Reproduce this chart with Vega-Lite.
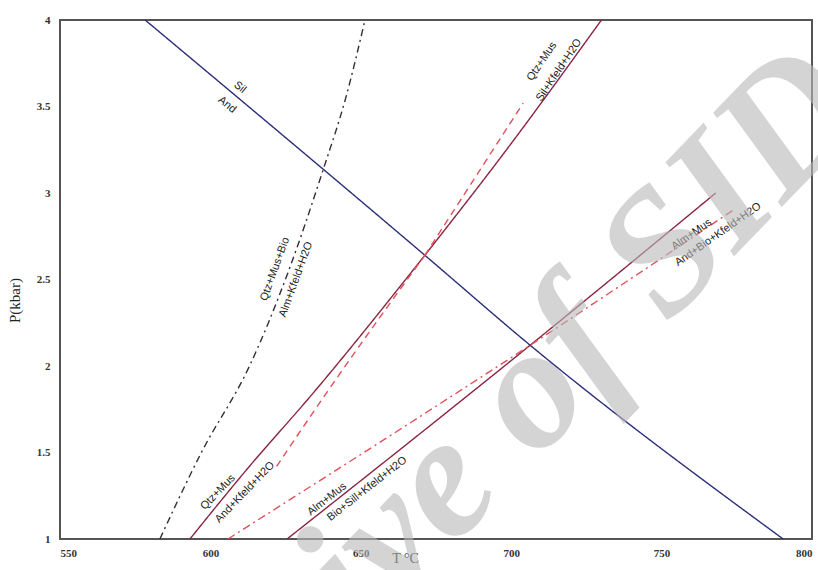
{
  "$schema": "https://vega.github.io/schema/vega-lite/v6.json",
  "width": 752,
  "height": 519,
  "autosize": "none",
  "padding": {"left": 60, "top": 20, "right": 6, "bottom": 31},
  "background": "white",
  "config": {
    "view": {"stroke": "#555", "strokeWidth": 2},
    "axis": {"grid": false, "domain": false, "ticks": false, "labelFont": "Liberation Serif", "labelFontSize": 11, "labelFontWeight": "bold", "labelColor": "#333", "titleFont": "Liberation Serif", "titleColor": "#222", "titleFontWeight": "normal"}
  },
  "datasets": {
    "lines": [
      {"series": "Sil-And", "order": 1, "T": 578.3, "P": 4},
      {"series": "Sil-And", "order": 2, "T": 671.3, "P": 2.64},
      {"series": "Sil-And", "order": 3, "T": 706.3, "P": 2.12},
      {"series": "Sil-And", "order": 4, "T": 790.4, "P": 1},
      {"series": "QMB", "order": 1, "T": 583.2, "P": 1},
      {"series": "QMB", "order": 2, "T": 597, "P": 1.5},
      {"series": "QMB", "order": 3, "T": 613, "P": 2.0},
      {"series": "QMB", "order": 4, "T": 626, "P": 2.55},
      {"series": "QMB", "order": 5, "T": 637.4, "P": 3.13},
      {"series": "QMB", "order": 6, "T": 645, "P": 3.55},
      {"series": "QMB", "order": 7, "T": 651.4, "P": 4},
      {"series": "QM-And", "order": 1, "T": 593.2, "P": 1},
      {"series": "QM-And", "order": 2, "T": 612, "P": 1.4},
      {"series": "QM-And", "order": 3, "T": 633.5, "P": 1.83},
      {"series": "QM-And", "order": 4, "T": 671.3, "P": 2.64},
      {"series": "QM-Sil", "order": 1, "T": 671.3, "P": 2.64},
      {"series": "QM-Sil", "order": 2, "T": 698, "P": 3.24},
      {"series": "QM-Sil", "order": 3, "T": 730, "P": 4},
      {"series": "QM-Sil-meta", "order": 1, "T": 622, "P": 1.42},
      {"series": "QM-Sil-meta", "order": 2, "T": 640.8, "P": 1.9},
      {"series": "QM-Sil-meta", "order": 3, "T": 671.3, "P": 2.64},
      {"series": "QM-And-meta", "order": 1, "T": 671.3, "P": 2.64},
      {"series": "QM-And-meta", "order": 2, "T": 704, "P": 3.52},
      {"series": "AM-Sil", "order": 1, "T": 625.5, "P": 1},
      {"series": "AM-Sil", "order": 2, "T": 706.3, "P": 2.12},
      {"series": "AM-Sil", "order": 3, "T": 768, "P": 3.0},
      {"series": "AM-And", "order": 1, "T": 605.8, "P": 1},
      {"series": "AM-And", "order": 2, "T": 679.7, "P": 1.82},
      {"series": "AM-And", "order": 3, "T": 706.3, "P": 2.12},
      {"series": "AM-And", "order": 4, "T": 773.7, "P": 2.9}
    ],
    "labels": [
      {"group": "a", "label": "Sil", "T": 609.8, "P": 3.61},
      {"group": "a", "label": "And", "T": 605.5, "P": 3.51},
      {"group": "b", "label": "Qtz+Mus+Bio", "T": 621.5, "P": 2.56},
      {"group": "b", "label": "Alm+Kfeld+H2O", "T": 628.5, "P": 2.5},
      {"group": "c", "label": "Qtz+Mus", "T": 710.2, "P": 3.76},
      {"group": "c", "label": "Sil+Kfeld+H2O", "T": 715.9, "P": 3.71},
      {"group": "d", "label": "Qtz+Mus", "T": 602.5, "P": 1.27},
      {"group": "d", "label": "And+Kfeld+H2O", "T": 611.5, "P": 1.27},
      {"group": "e", "label": "Alm+Mus", "T": 638.8, "P": 1.23},
      {"group": "e", "label": "Bio+Sill+Kfeld+H2O", "T": 652.1, "P": 1.29},
      {"group": "f", "label": "Alm+Mus", "T": 760, "P": 2.76},
      {"group": "f", "label": "And+Bio+Kfeld+H2O", "T": 768.8, "P": 2.76}
    ],
    "wm": [{"label": "Archive of SID", "T": 681, "P": 1.4}]
  },
  "layer": [
    {
      "data": {"name": "lines"},
      "mark": {"type": "line", "strokeWidth": 1.4, "clip": true, "interpolate": "monotone"},
      "encoding": {
        "x": {"field": "T", "type": "quantitative", "scale": {"domain": [550, 800], "nice": false, "zero": false}, "axis": {"values": [550, 600, 650, 700, 750, 800], "labelPadding": 8, "title": "T °C", "titleFontSize": 14, "titleX": 345, "titleY": 12, "titleBaseline": "top"}},
        "y": {"field": "P", "type": "quantitative", "scale": {"domain": [1, 4], "nice": false, "zero": false}, "axis": {"values": [1, 1.5, 2, 2.5, 3, 3.5, 4], "format": "~g", "labelPadding": 10, "title": "P(kbar)", "titleFontSize": 15, "titleX": -38, "titleY": 280}},
        "detail": {"field": "series"},
        "order": {"field": "order", "type": "quantitative"},
        "color": {"field": "series", "type": "nominal", "legend": null, "scale": {
          "domain": ["Sil-And", "QMB", "QM-And", "QM-Sil", "QM-Sil-meta", "QM-And-meta", "AM-Sil", "AM-And"],
          "range": ["#2c2f78", "#3a2a3a", "#8a2440", "#8a2440", "#e0505a", "#e0505a", "#8a2440", "#e0505a"]}},
        "strokeDash": {"field": "series", "type": "nominal", "legend": null, "scale": {
          "domain": ["Sil-And", "QMB", "QM-And", "QM-Sil", "QM-Sil-meta", "QM-And-meta", "AM-Sil", "AM-And"],
          "range": [[1, 0], [7, 4, 2, 4], [1, 0], [1, 0], [7, 5], [7, 5], [1, 0], [8, 4, 2, 4]]}}
      }
    },
    {
      "data": {"name": "labels"},
      "transform": [{"filter": "datum.group === 'a'"}],
      "mark": {"type": "text", "angle": 39, "font": "Liberation Sans", "fontSize": 11, "color": "#222"},
      "encoding": {"x": {"field": "T", "type": "quantitative"}, "y": {"field": "P", "type": "quantitative"}, "text": {"field": "label"}}
    },
    {
      "data": {"name": "labels"},
      "transform": [{"filter": "datum.group === 'b'"}],
      "mark": {"type": "text", "angle": -70, "font": "Liberation Sans", "fontSize": 11, "color": "#222"},
      "encoding": {"x": {"field": "T", "type": "quantitative"}, "y": {"field": "P", "type": "quantitative"}, "text": {"field": "label"}}
    },
    {
      "data": {"name": "labels"},
      "transform": [{"filter": "datum.group === 'c'"}],
      "mark": {"type": "text", "angle": -56, "font": "Liberation Sans", "fontSize": 11, "color": "#222"},
      "encoding": {"x": {"field": "T", "type": "quantitative"}, "y": {"field": "P", "type": "quantitative"}, "text": {"field": "label"}}
    },
    {
      "data": {"name": "labels"},
      "transform": [{"filter": "datum.group === 'd'"}],
      "mark": {"type": "text", "angle": -46, "font": "Liberation Sans", "fontSize": 11, "color": "#222"},
      "encoding": {"x": {"field": "T", "type": "quantitative"}, "y": {"field": "P", "type": "quantitative"}, "text": {"field": "label"}}
    },
    {
      "data": {"name": "labels"},
      "transform": [{"filter": "datum.group === 'e'"}],
      "mark": {"type": "text", "angle": -38, "font": "Liberation Sans", "fontSize": 11, "color": "#222"},
      "encoding": {"x": {"field": "T", "type": "quantitative"}, "y": {"field": "P", "type": "quantitative"}, "text": {"field": "label"}}
    },
    {
      "data": {"name": "labels"},
      "transform": [{"filter": "datum.group === 'f'"}],
      "mark": {"type": "text", "angle": -35, "font": "Liberation Sans", "fontSize": 11, "color": "#222"},
      "encoding": {"x": {"field": "T", "type": "quantitative"}, "y": {"field": "P", "type": "quantitative"}, "text": {"field": "label"}}
    },
    {
      "data": {"name": "wm"},
      "mark": {"type": "text", "angle": -46, "font": "Liberation Serif", "fontSize": 175, "fontStyle": "italic", "fontWeight": "bold", "color": "#b8b8b8", "opacity": 0.6, "clip": false},
      "encoding": {"x": {"field": "T", "type": "quantitative"}, "y": {"field": "P", "type": "quantitative"}, "text": {"field": "label"}}
    }
  ]
}
